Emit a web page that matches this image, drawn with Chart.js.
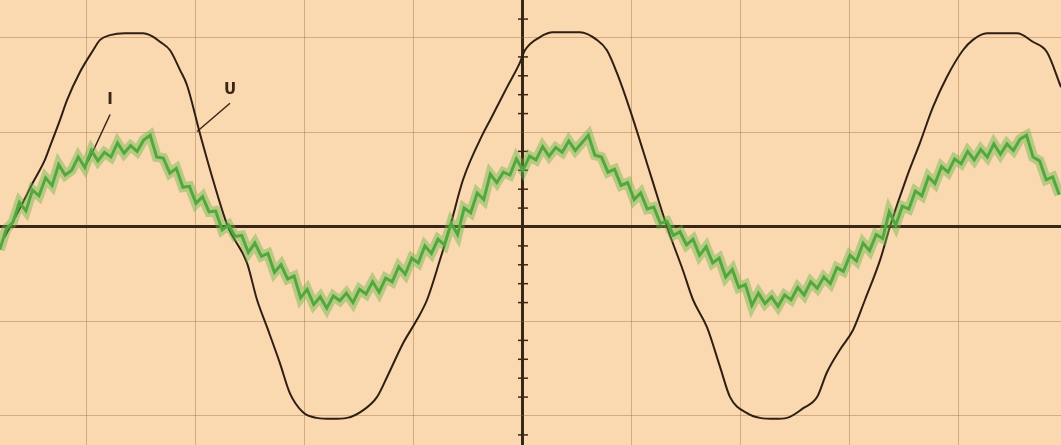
<!DOCTYPE html>
<html>
<head>
<meta charset="utf-8">
<script src="https://cdn.jsdelivr.net/npm/chart.js@4"></script>
<style>
  html, body { margin: 0; padding: 0; background: #fad8b0; }
  #wrap { width: 1061px; height: 445px; position: relative; }
</style>
</head>
<body>
<div id="wrap"><canvas id="scopeChart"></canvas></div>
<script>
// oscilloscope trace: voltage U (black) and current I (green)
// x = time in ms (5 ms / div), y = screen divisions

// U trace
const uTime = [
  -23.81, -23.53, -23.07, -22.48, -21.93, -21.70, -21.24, -20.92, -20.32, -19.72,
  -19.40, -18.94, -18.26, -17.43, -17.02, -16.65, -16.19, -15.73, -15.41, -14.82,
  -14.22, -13.53, -12.66, -12.20, -11.74, -11.15, -10.69, -10.09, -9.45, -8.76,
  -8.07, -7.34, -6.70, -6.24, -5.50, -4.86, -4.40, -3.81, -3.35, -2.75,
  -1.83, -1.51, -0.73, -0.14, 0.09, 0.78, 1.38, 2.61, 3.39, 3.85,
  4.31, 4.91, 5.83, 6.61, 7.34, 7.80, 8.44, 9.04, 9.50, 10.28,
  10.87, 11.56, 12.11, 12.84, 13.49, 13.94, 14.54, 15.14, 15.69, 16.38,
  16.83, 17.61, 18.21, 18.81, 19.45, 20.18, 20.64, 21.28, 22.66, 23.39,
  24.04, 24.68
];
const uVolt = [
  -0.12, 0, 0.20, 0.47, 0.71, 0.85, 1.13, 1.34, 1.64, 1.87,
  1.98, 2.03, 2.05, 2.05, 2.02, 1.96, 1.87, 1.66, 1.50, 0.99,
  0.50, 0, -0.38, -0.77, -1.06, -1.44, -1.76, -1.96, -2.02, -2.03,
  -2.02, -1.94, -1.80, -1.59, -1.23, -0.98, -0.77, -0.35, 0, 0.50,
  0.99, 1.13, 1.48, 1.74, 1.87, 2.01, 2.06, 2.06, 1.98, 1.87,
  1.63, 1.24, 0.57, 0, -0.46, -0.77, -1.06, -1.48, -1.80, -1.97,
  -2.02, -2.03, -2.02, -1.92, -1.80, -1.54, -1.30, -1.09, -0.77, -0.35,
  0, 0.53, 0.89, 1.27, 1.59, 1.87, 1.98, 2.05, 2.05, 1.96,
  1.85, 1.48
];

// I trace (noisy)
const iTime = [
  -24.0, -23.7, -23.4, -23.1, -22.8, -22.5, -22.2, -21.9, -21.6, -21.3,
  -21.0, -20.7, -20.4, -20.1, -19.8, -19.5, -19.2, -18.9, -18.6, -18.3,
  -18.0, -17.7, -17.4, -17.1, -16.8, -16.5, -16.2, -15.9, -15.6, -15.3,
  -15.0, -14.7, -14.4, -14.1, -13.8, -13.5, -13.2, -12.9, -12.6, -12.3,
  -12.0, -11.7, -11.4, -11.1, -10.8, -10.5, -10.2, -9.9, -9.6, -9.3,
  -9.0, -8.7, -8.4, -8.1, -7.8, -7.5, -7.2, -6.9, -6.6, -6.3,
  -6.0, -5.7, -5.4, -5.1, -4.8, -4.5, -4.2, -3.9, -3.6, -3.3,
  -3.0, -2.7, -2.4, -2.1, -1.8, -1.5, -1.2, -0.9, -0.6, -0.3,
  0.0, 0.3, 0.6, 0.9, 1.2, 1.5, 1.8, 2.1, 2.4, 2.7,
  3.0, 3.3, 3.6, 3.9, 4.2, 4.5, 4.8, 5.1, 5.4, 5.7,
  6.0, 6.3, 6.6, 6.9, 7.2, 7.5, 7.8, 8.1, 8.4, 8.7,
  9.0, 9.3, 9.6, 9.9, 10.2, 10.5, 10.8, 11.1, 11.4, 11.7,
  12.0, 12.3, 12.6, 12.9, 13.2, 13.5, 13.8, 14.1, 14.4, 14.7,
  15.0, 15.3, 15.6, 15.9, 16.2, 16.5, 16.8, 17.1, 17.4, 17.7,
  18.0, 18.3, 18.6, 18.9, 19.2, 19.5, 19.8, 20.1, 20.4, 20.7,
  21.0, 21.3, 21.6, 21.9, 22.2, 22.5, 22.8, 23.1, 23.4, 23.7,
  24.0, 24.3, 24.6
];
const iAmp = [
  -0.24, -0.02, 0.05, 0.26, 0.17, 0.39, 0.33, 0.52, 0.44, 0.66,
  0.55, 0.60, 0.74, 0.63, 0.81, 0.70, 0.79, 0.74, 0.89, 0.78,
  0.86, 0.80, 0.92, 0.97, 0.74, 0.73, 0.57, 0.62, 0.42, 0.43,
  0.25, 0.32, 0.16, 0.17, -0.03, 0.02, -0.10, -0.09, -0.27, -0.17,
  -0.31, -0.28, -0.48, -0.40, -0.55, -0.52, -0.75, -0.66, -0.82, -0.74,
  -0.86, -0.73, -0.78, -0.70, -0.80, -0.66, -0.71, -0.58, -0.69, -0.54,
  -0.58, -0.42, -0.50, -0.33, -0.38, -0.20, -0.28, -0.13, -0.19, 0.04,
  -0.08, 0.20, 0.15, 0.36, 0.29, 0.56, 0.47, 0.58, 0.55, 0.72,
  0.60, 0.75, 0.71, 0.85, 0.75, 0.84, 0.79, 0.91, 0.81, 0.89,
  0.97, 0.76, 0.74, 0.58, 0.61, 0.44, 0.47, 0.29, 0.36, 0.19,
  0.21, 0.04, 0.06, -0.09, -0.05, -0.19, -0.13, -0.30, -0.21, -0.38,
  -0.33, -0.53, -0.45, -0.64, -0.61, -0.83, -0.70, -0.81, -0.74, -0.84,
  -0.72, -0.77, -0.64, -0.72, -0.58, -0.65, -0.53, -0.60, -0.43, -0.47,
  -0.30, -0.36, -0.17, -0.25, -0.08, -0.12, 0.16, 0.02, 0.22, 0.19,
  0.38, 0.33, 0.53, 0.46, 0.64, 0.58, 0.72, 0.67, 0.80, 0.71,
  0.82, 0.74, 0.88, 0.77, 0.88, 0.81, 0.93, 0.97, 0.74, 0.70,
  0.50, 0.53, 0.34
];

// graticule
const xGridTicks = [-20, -15, -10, -5, 0, 5, 10, 15, 20];
const yGridTicks = [-2, -1, 0, 1, 2];
const centreTickMarks = [
  -2.2, -1.8, -1.6, -1.4, -1.2, -0.8, -0.6, -0.4, -0.2,
  0.2, 0.4, 0.6, 0.8, 1.2, 1.4, 1.6, 1.8, 2.2
];

// trace labels and their leader lines
const labelNames = ["I", "U"];
const labelTime = [-18.94, -13.44];
const labelVal = [1.34, 1.45];
const leaderI = { time: [-18.94, -19.95], val: [1.19, 0.69] };
const leaderU = { time: [-13.44, -14.95], val: [1.31, 1.01] };

const INK = "#3a2616";
const GRID = "rgba(150, 105, 60, 0.4)";

function pairs(xs, ys) {
  return xs.map((x, k) => ({ x: x, y: ys[k] }));
}

// text labels I / U
const traceLabels = {
  id: "traceLabels",
  afterDatasetsDraw(chart) {
    const ctx = chart.ctx;
    const xs = chart.scales.x;
    const ys = chart.scales.y;
    ctx.save();
    ctx.fillStyle = INK;
    ctx.font = "bold 15px 'DejaVu Sans', sans-serif";
    ctx.textAlign = "center";
    ctx.textBaseline = "middle";
    labelNames.forEach((name, k) => {
      ctx.fillText(name, xs.getPixelForValue(labelTime[k]), ys.getPixelForValue(labelVal[k]));
    });
    ctx.restore();
  }
};

function gridOpts() {
  return {
    color: (c) => (c.tick && c.tick.value === 0 ? INK : GRID),
    lineWidth: (c) => (c.tick && c.tick.value === 0 ? 3 : 1),
    drawTicks: false
  };
}

function createScopeChart() {
  const ctx = document.getElementById("scopeChart");

  new Chart(ctx, {
    type: "line",
    data: {
      datasets: [
        {
          label: "I halo",
          data: pairs(iTime, iAmp),
          borderColor: "rgba(105, 185, 75, 0.45)",
          borderWidth: 10,
          pointRadius: 0,
          tension: 0
        },
        {
          label: "I",
          data: pairs(iTime, iAmp),
          borderColor: "#3f9c33",
          borderWidth: 3,
          pointRadius: 0,
          tension: 0
        },
        {
          label: "U",
          data: pairs(uTime, uVolt),
          borderColor: "#2e1f12",
          borderWidth: 2,
          pointRadius: 0,
          cubicInterpolationMode: "monotone"
        },
        {
          label: "I leader",
          data: pairs(leaderI.time, leaderI.val),
          borderColor: INK,
          borderWidth: 1.5,
          pointRadius: 0
        },
        {
          label: "U leader",
          data: pairs(leaderU.time, leaderU.val),
          borderColor: INK,
          borderWidth: 1.5,
          pointRadius: 0
        },
        {
          label: "ticks",
          data: centreTickMarks.map((v) => ({ x: 0, y: v })),
          showLine: false,
          pointStyle: "line",
          pointRadius: 5,
          borderColor: INK,
          borderWidth: 1.5
        }
      ]
    },
    options: {
      responsive: true,
      maintainAspectRatio: false,
      animation: false,
      layout: { padding: 0, autoPadding: false },
      plugins: {
        legend: { display: false },
        tooltip: { enabled: false }
      },
      scales: {
        x: {
          type: "linear",
          min: -23.99,
          max: 24.68,
          afterBuildTicks: (s) => { s.ticks = xGridTicks.map((v) => ({ value: v })); },
          ticks: { display: false },
          border: { display: false },
          grid: gridOpts()
        },
        y: {
          type: "linear",
          min: -2.307,
          max: 2.402,
          afterBuildTicks: (s) => { s.ticks = yGridTicks.map((v) => ({ value: v })); },
          ticks: { display: false },
          border: { display: false },
          grid: gridOpts()
        }
      }
    },
    plugins: [traceLabels]
  });
}

window.addEventListener("DOMContentLoaded", () => {
  createScopeChart();
});
</script>
</body>
</html>
